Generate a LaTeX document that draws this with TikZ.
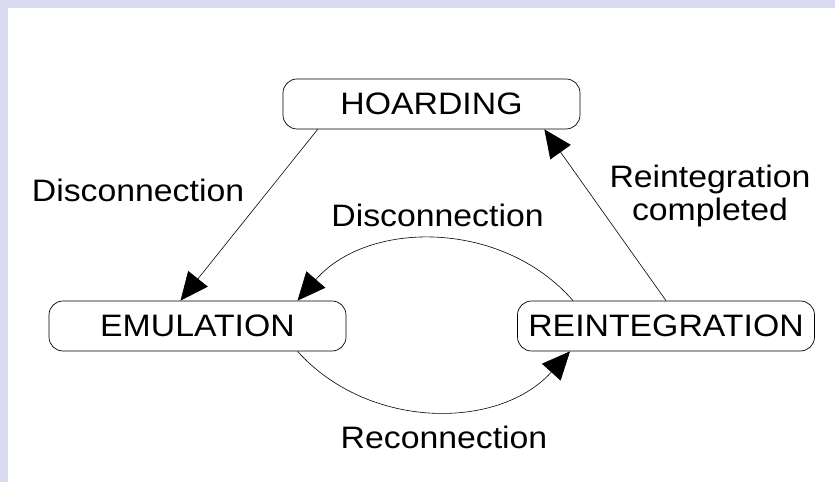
\documentclass[tikz,border=0pt]{standalone}
\usepackage{fontspec}
\setmainfont{Liberation Sans}[FakeStretch=1.09]
\usetikzlibrary{arrows.meta}
\definecolor{framecol}{RGB}{218,218,240}

\begin{document}
\begin{tikzpicture}[
    x=1pt,y=1pt,font=\fontsize{31pt}{33pt}\selectfont,
    mode/.style={draw, line width=0.7pt, rounded corners=14pt, minimum width=297pt, minimum height=50pt, inner sep=0pt},
    link/.style={line width=0.6pt, -{Triangle[length=28pt,width=25pt]}},
    caption/.style={inner sep=0pt}
    ]
    \fill[white] (0, 0) rectangle (835, 482);
    \fill[framecol] (0, 474) rectangle (835, 482);
    \fill[framecol] (0, 0) rectangle (8, 482);
    \node[mode] (hoard) at (431.5, 378) {HOARDING};
    \node[mode] (emul) at (197.5, 156) {EMULATION};
    \node[mode] (reint) at (666, 156) {REINTEGRATION};
    \node[caption, anchor=base] (discA) at (138, 280) {Disconnection};
    \node[caption, anchor=base] (discB) at (437.5, 255) {Disconnection};
    \node[caption, anchor=base] (recon) at (444, 34) {Reconnection};
    \node[caption, anchor=north, align=center] (rdone) at (710, 317) {Reintegration\\completed};
    \draw[link] ([xshift=35pt]hoard.south west) -- ([xshift=-17pt]emul.north);
    \draw[link] (reint.north) -- ([xshift=-36pt]hoard.south east);
    \draw[link] ([xshift=-93pt]reint.north) to[bend right=49] ([xshift=100pt]emul.north);
    \draw[link] ([xshift=100pt]emul.south) to[bend right=48] ([xshift=-96pt]reint.south);
  \end{tikzpicture}
\end{document}
